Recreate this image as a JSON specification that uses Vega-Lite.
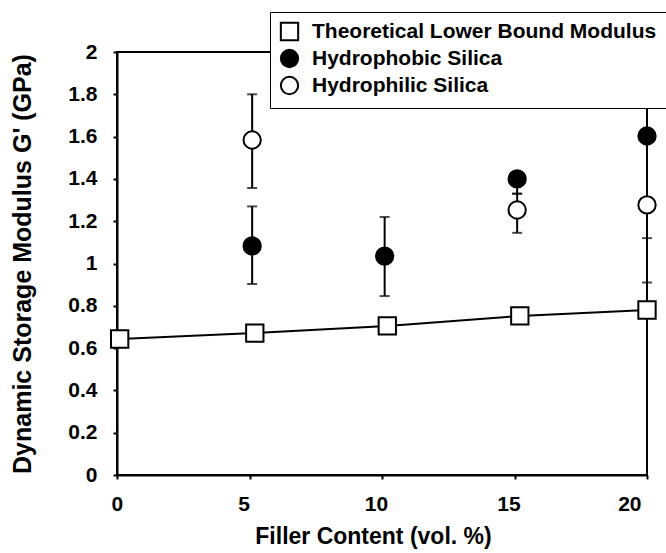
{
  "$schema": "https://vega.github.io/schema/vega-lite/v6.json",
  "width": 530,
  "height": 423,
  "autosize": "none",
  "padding": {"left": 117, "top": 52, "right": 19, "bottom": 78},
  "background": "white",
  "config": {
    "font": "Liberation Sans",
    "view": {"stroke": "black", "strokeWidth": 2},
    "axis": {"grid": false, "domainColor": "black", "domainWidth": 2, "tickColor": "black", "tickWidth": 2, "labelFontWeight": "bold", "labelFontSize": 21, "labelColor": "black", "titleFontWeight": "bold", "titleColor": "black"}
  },
  "datasets": {
    "pts": [
      {"filler": 0.1, "modulus": 0.643, "series": "Theoretical Lower Bound Modulus"},
      {"filler": 5.2, "modulus": 0.671, "series": "Theoretical Lower Bound Modulus"},
      {"filler": 10.2, "modulus": 0.705, "series": "Theoretical Lower Bound Modulus"},
      {"filler": 15.2, "modulus": 0.752, "series": "Theoretical Lower Bound Modulus"},
      {"filler": 20.0, "modulus": 0.78, "series": "Theoretical Lower Bound Modulus"},
      {"filler": 5.1, "modulus": 1.083, "lo": 0.903, "hi": 1.27, "series": "Hydrophobic Silica"},
      {"filler": 10.1, "modulus": 1.035, "lo": 0.846, "hi": 1.22, "series": "Hydrophobic Silica"},
      {"filler": 15.1, "modulus": 1.40, "lo": 1.33, "hi": 1.42, "series": "Hydrophobic Silica"},
      {"filler": 20.0, "modulus": 1.603, "lo": 1.12, "hi": 2.0, "series": "Hydrophobic Silica"},
      {"filler": 5.1, "modulus": 1.584, "lo": 1.357, "hi": 1.80, "series": "Hydrophilic Silica"},
      {"filler": 15.1, "modulus": 1.253, "lo": 1.145, "hi": 1.33, "series": "Hydrophilic Silica"},
      {"filler": 20.0, "modulus": 1.277, "lo": 0.91, "hi": 1.6, "series": "Hydrophilic Silica"}
    ]
  },
  "data": {"name": "pts"},
  "layer": [
    {
      "transform": [{"filter": "datum.lo != null"}],
      "mark": {"type": "rule", "color": "black", "strokeWidth": 2},
      "encoding": {
        "x": {"field": "filler", "type": "quantitative"},
        "y": {"field": "lo", "type": "quantitative"},
        "y2": {"field": "hi"}
      }
    },
    {
      "transform": [{"filter": "datum.lo != null"}],
      "mark": {"type": "tick", "color": "black", "orient": "horizontal", "size": 10, "thickness": 2},
      "encoding": {
        "x": {"field": "filler", "type": "quantitative"},
        "y": {"field": "lo", "type": "quantitative"}
      }
    },
    {
      "transform": [{"filter": "datum.lo != null"}],
      "mark": {"type": "tick", "color": "black", "orient": "horizontal", "size": 10, "thickness": 2},
      "encoding": {
        "x": {"field": "filler", "type": "quantitative"},
        "y": {"field": "hi", "type": "quantitative"}
      }
    },
    {
      "transform": [{"filter": "datum.lo == null"}],
      "mark": {"type": "line", "color": "black", "strokeWidth": 2},
      "encoding": {
        "x": {"field": "filler", "type": "quantitative"},
        "y": {"field": "modulus", "type": "quantitative"}
      }
    },
    {
      "mark": {"type": "point", "filled": false, "stroke": "black", "strokeWidth": 2, "opacity": 1, "size": 300},
      "encoding": {
        "x": {
          "field": "filler", "type": "quantitative",
          "scale": {"domain": [0, 20], "nice": false},
          "axis": {"values": [0, 5, 10, 15, 20], "tickSize": 4, "labelPadding": 14, "labelOffset": -6, "title": "Filler Content (vol. %)", "titleFontSize": 23, "titlePadding": 11, "titleX": 256}
        },
        "y": {
          "field": "modulus", "type": "quantitative",
          "scale": {"domain": [0, 2], "nice": false},
          "axis": {"values": [0, 0.2, 0.4, 0.6, 0.8, 1, 1.2, 1.4, 1.6, 1.8, 2], "format": "~g", "tickSize": 4, "labelPadding": 16, "title": "Dynamic Storage Modulus G' (GPa)", "titleFontSize": 25, "titlePadding": 32}
        },
        "shape": {
          "field": "series", "type": "nominal",
          "scale": {"domain": ["Theoretical Lower Bound Modulus", "Hydrophobic Silica", "Hydrophilic Silica"], "range": ["square", "circle", "circle"]},
          "legend": {"title": null, "orient": "none", "legendX": 153, "legendY": -40, "fillColor": "white", "strokeColor": "black", "padding": 9, "labelFontSize": 21, "labelFontWeight": "bold", "labelColor": "black", "labelOffset": 12, "symbolSize": 300, "symbolStrokeWidth": 2, "rowPadding": 0, "labelLimit": 500, "encode": {"legend": {"update": {"strokeWidth": {"value": 2}}}, "symbols": {"update": {"stroke": {"value": "black"}, "strokeWidth": {"value": 2}}}}}
        },
        "fill": {
          "field": "series", "type": "nominal",
          "scale": {"domain": ["Theoretical Lower Bound Modulus", "Hydrophobic Silica", "Hydrophilic Silica"], "range": ["white", "black", "white"]},
          "legend": {"title": null, "orient": "none", "legendX": 153, "legendY": -40, "fillColor": "white", "strokeColor": "black", "padding": 9, "labelFontSize": 21, "labelFontWeight": "bold", "labelColor": "black", "labelOffset": 12, "symbolSize": 300, "symbolStrokeWidth": 2, "rowPadding": 0, "labelLimit": 500, "encode": {"legend": {"update": {"strokeWidth": {"value": 2}}}, "symbols": {"update": {"stroke": {"value": "black"}, "strokeWidth": {"value": 2}}}}}
        }
      }
    }
  ]
}
